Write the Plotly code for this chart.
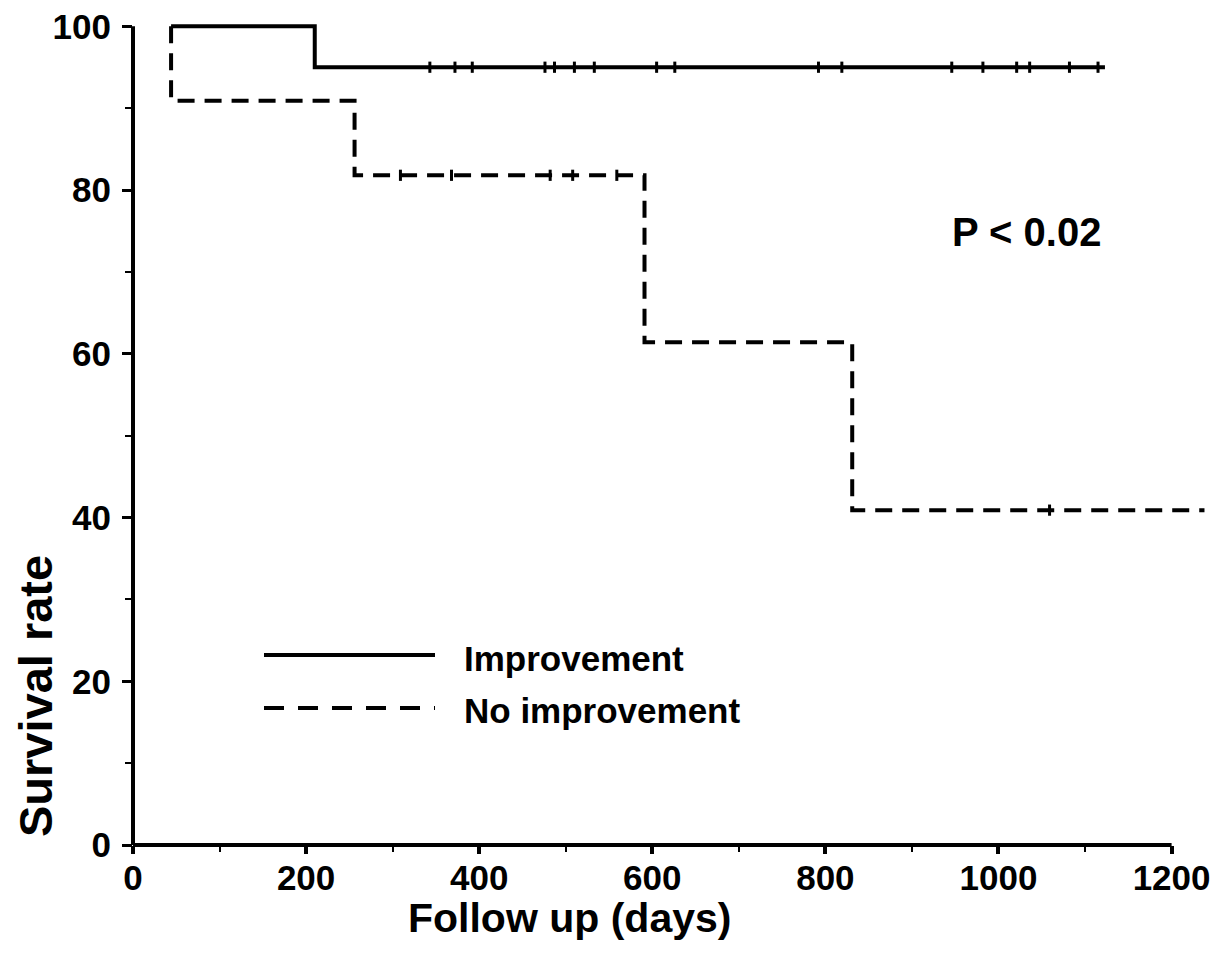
import plotly.graph_objects as go

# Kaplan-Meier step data (days, survival %)
imp_days = [44, 210, 1123]
imp_surv = [100, 95.0, 95.0]
noimp_days = [44, 44, 256, 591, 831, 1238]
noimp_surv = [100, 90.9, 81.8, 61.4, 40.9, 40.9]

# censored observations
imp_cens_days = [343, 372, 392, 476, 487, 510, 533, 605, 626, 792, 819, 946, 982, 1021, 1036, 1082, 1115]
noimp_cens_days = [309, 368, 482, 508, 559, 1059]
noimp_cens_surv = [81.8, 81.8, 81.8, 81.8, 81.8, 40.9]

x_ticks = [0, 200, 400, 600, 800, 1000, 1200]
y_ticks = [0, 20, 40, 60, 80, 100]

FONT = "Liberation Sans, Arial, sans-serif"

# plot-area pixel geometry (screen coords) used to place annotations
PX0, PY0, PW, PH = 133, 845, 1081, 831


def px(x):
    return (x - PX0) / PW


def py(y):
    return (PY0 - y) / PH


fig = go.Figure()
fig.add_trace(go.Scatter(x=imp_days, y=imp_surv, mode="lines", line_shape="hv",
                         line=dict(color="black", width=4), name="Improvement", showlegend=False))
fig.add_trace(go.Scatter(x=noimp_days, y=noimp_surv, mode="lines", line_shape="hv",
                         line=dict(color="black", width=4, dash="17px,10px"),
                         name="No improvement", showlegend=False))
fig.add_trace(go.Scatter(x=imp_cens_days, y=[imp_surv[-1]] * len(imp_cens_days), mode="markers",
                         marker=dict(symbol="line-ns", size=8, line=dict(color="black", width=3)),
                         showlegend=False, hoverinfo="skip"))
fig.add_trace(go.Scatter(x=noimp_cens_days, y=noimp_cens_surv, mode="markers",
                         marker=dict(symbol="line-ns", size=8, line=dict(color="black", width=3)),
                         showlegend=False, hoverinfo="skip"))

# axis lines: x only up to 1200, y only up to 100
fig.add_shape(type="line", xref="x", yref="paper", x0=0, x1=1200, y0=0, y1=0,
              line=dict(color="black", width=4), layer="above")
fig.add_shape(type="line", xref="paper", yref="y", x0=0, x1=0, y0=-1, y1=100,
              line=dict(color="black", width=4), layer="above")

# legend (manual)
fig.add_shape(type="line", xref="paper", yref="paper", x0=px(264), x1=px(435),
              y0=py(655), y1=py(655), line=dict(color="black", width=4))
fig.add_shape(type="line", xref="paper", yref="paper", x0=px(264), x1=px(435),
              y0=py(708), y1=py(708), line=dict(color="black", width=4, dash="20px,14px"))
fig.add_annotation(text="Improvement", xref="paper", yref="paper", x=px(462),
                   y=py(658), xanchor="left", yanchor="middle", showarrow=False,
                   font=dict(family=FONT, size=35, color="black", weight="bold"))
fig.add_annotation(text="No improvement", xref="paper", yref="paper", x=px(462),
                   y=py(710), xanchor="left", yanchor="middle", showarrow=False,
                   font=dict(family=FONT, size=35, color="black", weight="bold"))
fig.add_annotation(text="P < 0.02", xref="paper", yref="paper", x=px(1026),
                   y=py(232), xanchor="center", yanchor="middle", showarrow=False,
                   font=dict(family=FONT, size=40, color="black", weight="bold"))
fig.add_annotation(text="Follow up (days)", xref="paper", yref="paper", x=px(569),
                   y=py(918), xanchor="center", yanchor="middle", showarrow=False,
                   font=dict(family=FONT, size=41, color="black", weight="bold"))
fig.add_annotation(text="Survival rate", xref="paper", yref="paper", x=px(35),
                   y=py(696), xanchor="center", yanchor="middle", showarrow=False,
                   textangle=-90,
                   font=dict(family=FONT, size=47, color="black", weight="bold"))

fig.update_layout(
    width=1214, height=959,
    margin=dict(l=125, r=8, t=6, b=122),
    paper_bgcolor="white", plot_bgcolor="white",
    xaxis=dict(range=[0, 1249], tickvals=x_ticks, ticktext=[str(v) for v in x_ticks],
               automargin=False,
               showgrid=False, zeroline=False, showline=False,
               ticks="outside", ticklen=8, tickwidth=4, tickcolor="black",
               minor=dict(tickvals=[100, 300, 500, 700, 900, 1100], ticks="outside",
                          ticklen=6, tickwidth=2, tickcolor="black"),
               ticklabelstandoff=-6, ticklabeloverflow="allow",
               tickfont=dict(family=FONT, size=35, color="black", weight="bold")),
    yaxis=dict(range=[0, 101.5], tickvals=y_ticks, ticktext=[str(v) for v in y_ticks],
               automargin=False,
               showgrid=False, zeroline=False, showline=False,
               ticks="outside", ticklen=10, tickwidth=3, tickcolor="black",
               minor=dict(tickvals=[10, 30, 50, 70, 90], ticks="outside",
                          ticklen=7, tickwidth=2, tickcolor="black"),
               ticklabelstandoff=4, ticklabeloverflow="allow",
               tickfont=dict(family=FONT, size=35, color="black", weight="bold")),
)

fig.write_html("out.html")
